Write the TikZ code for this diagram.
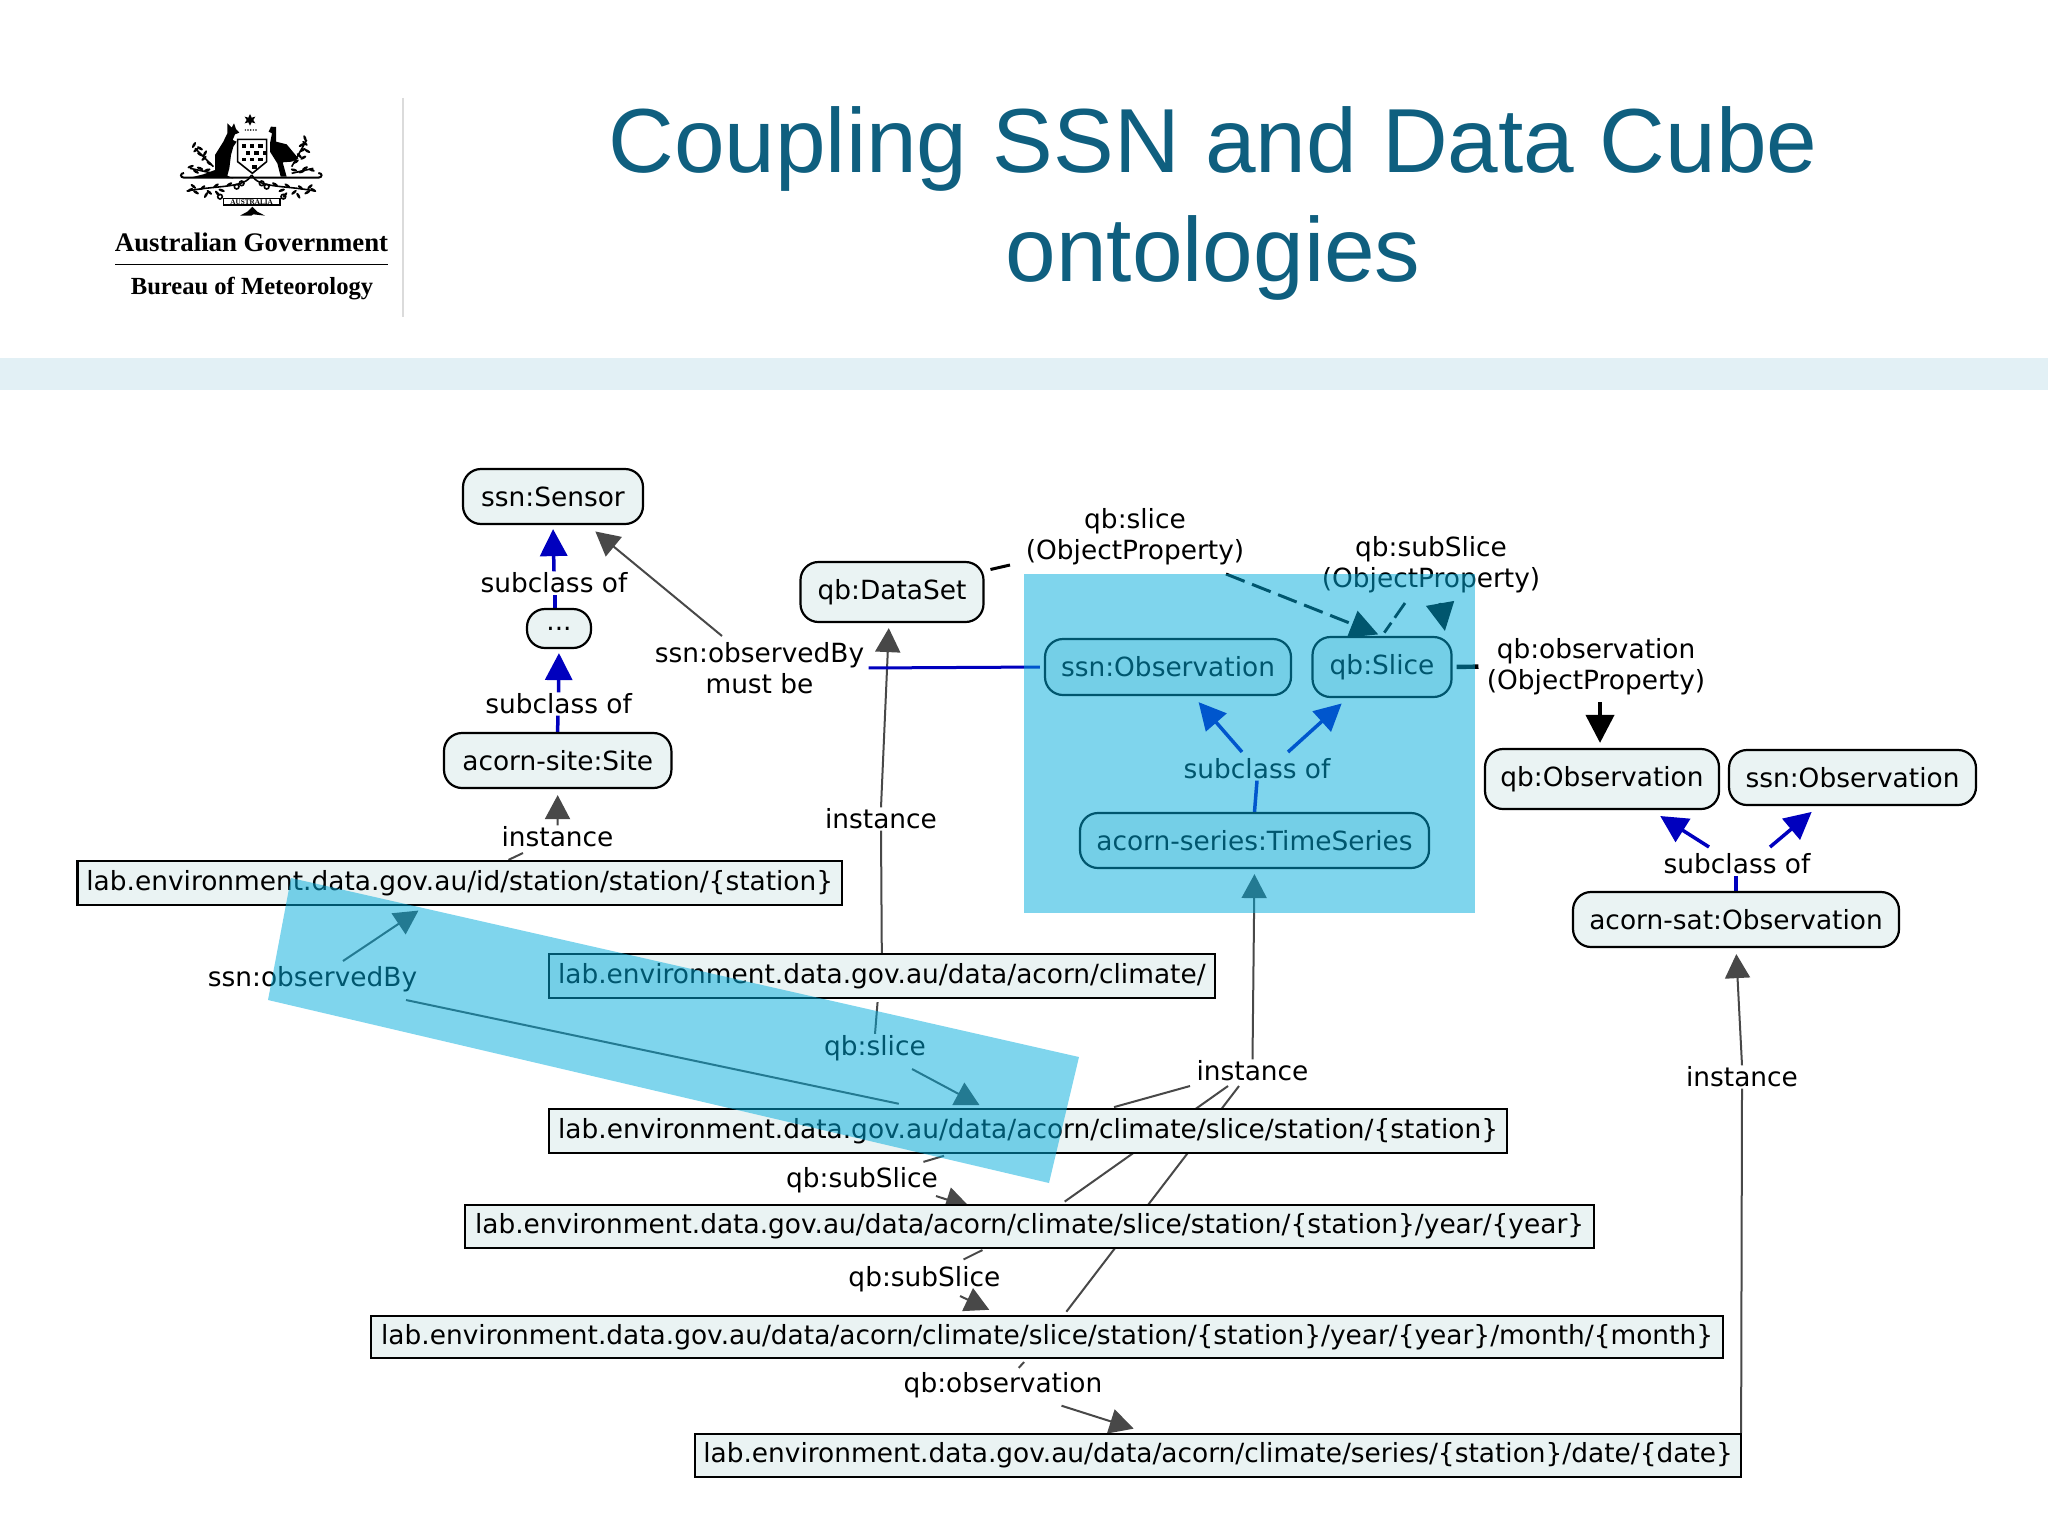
\documentclass[tikz,border=0pt]{standalone}
\usepackage{fontspec}
\setmainfont{DejaVu Sans}
\newfontfamily\titlefont{Liberation Sans}
\newfontfamily\logofont{Liberation Serif}
\usetikzlibrary{arrows.meta,backgrounds}

\definecolor{titleteal}{HTML}{0F5F7F}
\definecolor{bandblue}{HTML}{E2F0F5}
\definecolor{nodefill}{HTML}{EAF3F3}
\definecolor{edgegray}{HTML}{484848}
\definecolor{subblue}{RGB}{0,0,190}
\definecolor{veilblue}{RGB}{0,172,220}

\tikzset{
  classnode/.style={draw=black,line width=1.1pt,fill=nodefill,rounded corners=9pt,
    inner sep=0pt,font=\fontsize{13.2}{15.5}\selectfont},
  urinode/.style={draw=black,line width=1.1pt,fill=nodefill,rectangle,
    inner sep=0pt,font=\fontsize{13.2}{15.5}\selectfont},
  lbl/.style={inner sep=0.5pt,align=center,font=\fontsize{13.2}{15.5}\selectfont},
  instedge/.style={draw=edgegray,line width=1pt},
  instarrow/.style={instedge,-{Triangle[length=12pt,width=12.5pt]}},
  subedge/.style={draw=subblue,line width=1.75pt},
  subarrow/.style={subedge,-{Triangle[length=13.5pt,width=13.5pt]}},
  propedge/.style={draw=black,line width=1.4pt},
  proparrow/.style={propedge,-{Triangle[length=14pt,width=14pt]}},
  blueveil/.style={fill=veilblue,opacity=0.5},
}

\begin{document}
\begin{tikzpicture}[x=0.5pt,y=-0.5pt]
    \useasboundingbox (0,0) rectangle (2048,1536);

    % header
    \fill[bandblue] (0,358) rectangle (2048,390);
    \draw[black!14,line width=0.6pt] (403,98) -- (403,317);
    \node[text=titleteal,font=\titlefont\fontsize{45.5}{54.5}\selectfont,align=center,inner sep=0pt]
        (title) at (1213,203) {Coupling SSN and Data Cube\\ontologies};

    % logo
    \node[inner sep=0pt,font=\logofont\bfseries\fontsize{13.4}{16}\selectfont] (govt) at (251.5,242) {Australian Government};
    \node[inner sep=0pt,font=\logofont\bfseries\fontsize{12.3}{15}\selectfont] (bureau) at (252,288.5) {Bureau of Meteorology};
    \draw[black,line width=0.6pt] (115,264.7) -- (388,264.7);
    \begin{scope}[shift={(170,105)},scale=1/3]
      % star and crest
      \fill (240,27) -- (245,38) -- (256,35) -- (250,45) -- (256,55) -- (245,52) -- (240,62)
            -- (235,52) -- (224,55) -- (230,45) -- (224,35) -- (235,38) -- cycle;
      \foreach \dx in {226,234,242,250,258} \fill (\dx,75) circle (2.5);
      % kangaroo
      \fill (172,55) -- (185,68) -- (192,55) -- (198,72) -- (208,83) -- (195,88) -- (188,105)
            -- (200,110) -- (190,125) -- (183,150) -- (178,190) -- (172,212) -- (190,220)
            -- (150,218) -- (60,218) -- (100,208) -- (135,195) -- (135,150) -- (160,110) -- (172,85) -- cycle;
      % emu
      \fill (303,65) -- (318,66) -- (318,110) -- (350,118) -- (385,160) -- (365,170) -- (338,172)
            -- (350,215) -- (332,215) -- (322,175) -- (300,140) -- (300,115) -- (306,85) -- (296,80) -- cycle;
      % shield
      \draw[line width=0.8pt,fill=white] (203,103) -- (290,103) -- (290,170) -- (247,205) -- (203,170) -- cycle;
      \foreach \sx/\sy in {215/118,240/118,265/118,228/138,253/138,278/138,215/158,240/158,265/158,247/180}
        \fill (\sx,\sy) rectangle ++(13,11);
      % scroll
      \draw[line width=1pt] (42,204) .. controls (30,204) and (30,218) .. (42,218) -- (445,218)
            .. controls (458,218) and (458,204) .. (445,204);
      % branches
      \draw[line width=0.8pt] (245,210) .. controls (225,250) and (150,240) .. (50,258);
      \draw[line width=0.8pt] (245,210) .. controls (265,250) and (340,240) .. (435,258);
      \draw[line width=0.8pt] (130,185) -- (75,130);
      \draw[line width=0.8pt] (365,185) -- (410,105);
      \draw[line width=0.8pt] (130,205) -- (60,190);
      \draw[line width=0.8pt] (365,205) -- (430,190);
      \foreach \lx/\ly/\la in {60/255/30,70/244/-40,78/262/-30,98/248/40,108/270/60,118/262/-40,138/242/35,142/265/-50,155/256/-20,178/238/30,
        315/238/-30,335/256/20,345/270/50,352/242/-35,372/262/40,385/272/-60,392/248/-40,412/262/30,420/245/40,430/255/-30,
        72/120/60,78/135/40,90/130/-30,90/148/-30,105/145/60,102/160/45,118/175/-35,
        62/185/20,78/200/-30,90/190/-20,112/195/15,
        405/100/-70,405/115/-40,395/120/30,398/135/30,412/138/-30,388/152/-45,400/158/30,378/170/35,
        425/195/-20,405/190/30,395/200/20,372/195/-15}
        \fill (\lx,\ly) ellipse [x radius=10,y radius=4,rotate=\la];
      \foreach \lx/\ly in {200/245,290/245,150/275,340/275,215/235,275/235}
        \draw[line width=0.8pt] (\lx,\ly) circle (7);
      % ribbon and feet
      \draw[line width=0.6pt,fill=white] (160,280) -- (330,280) -- (330,300) -- (160,300) -- cycle;
      \node[inner sep=0pt,font=\logofont\bfseries\fontsize{3.6}{4}\selectfont] (ribbon) at (245,290) {AUSTRALIA};
      \fill (247,305) -- (262,320) -- (285,332) -- (250,328) -- (244,332) -- (210,332) -- (232,320) -- cycle;
    \end{scope}

    % class nodes
    \node[classnode,minimum width=90pt,minimum height=27.5pt]    (sensor)  at (553,496.5)   {ssn:Sensor};
    \node[classnode,minimum width=32pt,minimum height=19.5pt]    (dots)    at (559,628.5)   {...};
    \node[classnode,minimum width=113.7pt,minimum height=27.5pt] (site)    at (557.7,760.5) {acorn-site:Site};
    \node[classnode,minimum width=91.5pt,minimum height=30pt]    (dataset) at (892,592)     {qb:DataSet};
    \node[classnode,minimum width=123pt,minimum height=28pt]     (ssnobs)  at (1168,667)    {ssn:Observation};
    \node[classnode,minimum width=69.5pt,minimum height=30pt]    (slice)   at (1382,667)    {qb:Slice};
    \node[classnode,minimum width=174.5pt,minimum height=27.5pt] (series)  at (1254.5,840.5) {acorn-series:TimeSeries};
    \node[classnode,minimum width=117pt,minimum height=30pt]     (qbobs)   at (1602,779)    {qb:Observation};
    \node[classnode,minimum width=123.5pt,minimum height=27.5pt] (ssnobsb) at (1852.5,777.5) {ssn:Observation};
    \node[classnode,minimum width=163pt,minimum height=27.5pt]   (sat)     at (1736,919.5)  {acorn-sat:Observation};

    % uri nodes
    \node[urinode,minimum width=382.3pt,minimum height=22pt]  (urlsite)    at (459.7,883)  {lab.environment.data.gov.au/id/station/station/\{station\}};
    \node[urinode,minimum width=332.8pt,minimum height=22pt]  (urlclimate) at (881.8,976)  {lab.environment.data.gov.au/data/acorn/climate/};
    \node[urinode,minimum width=479pt,minimum height=22pt]    (urlslice)   at (1028,1131)  {lab.environment.data.gov.au/data/acorn/climate/slice/station/\{station\}};
    \node[urinode,minimum width=564.5pt,minimum height=21.5pt] (urlyear)   at (1029.5,1226.5) {lab.environment.data.gov.au/data/acorn/climate/slice/station/\{station\}/year/\{year\}};
    \node[urinode,minimum width=676pt,minimum height=21pt]    (urlmonth)   at (1047,1337)  {lab.environment.data.gov.au/data/acorn/climate/slice/station/\{station\}/year/\{year\}/month/\{month\}};
    \node[urinode,minimum width=523pt,minimum height=21.5pt]  (urldate)    at (1218,1455.5) {lab.environment.data.gov.au/data/acorn/climate/series/\{station\}/date/\{date\}};

    % edge labels
    \node[lbl] (subsensor) at (554,583)    {subclass of};
    \node[lbl] (subdots)   at (558.6,704)  {subclass of};
    \node[lbl] (instsite)  at (557.5,837)  {instance};
    \node[lbl] (instdata)  at (881,819)    {instance};
    \node[lbl] (must)      at (759.5,668)  {ssn:observedBy\\must be};
    \node[lbl] (propslice) at (1135,537)   {qb:slice\\(ObjectProperty)};
    \node[lbl] (propsub)   at (1431,565)   {qb:subSlice\\(ObjectProperty)};
    \node[lbl] (propobs)   at (1596,666.5) {qb:observation\\(ObjectProperty)};
    \node[lbl] (subseries) at (1257,769)   {subclass of};
    \node[lbl] (subsat)    at (1737,864)   {subclass of};
    \node[lbl] (observed)  at (312.5,979)  {ssn:observedBy};
    \node[lbl] (qbslice)   at (875,1048)   {qb:slice};
    \node[lbl] (instmany)  at (1252.5,1071) {instance};
    \node[lbl] (instsat)   at (1742,1077)  {instance};
    \node[lbl] (subsliceA) at (862,1180)   {qb:subSlice};
    \node[lbl] (subsliceB) at (924.4,1279) {qb:subSlice};
    \node[lbl] (qbobserv)  at (1003,1385)  {qb:observation};

    % free ends of the connectors
    \coordinate (musttail)   at (722,636);
    \coordinate (sitestub)   at (523,853);
    \coordinate (obsup)      at (343,961);
    \coordinate (obsdown)    at (406,1000);
    \coordinate (slicetail)  at (912,1069);
    \coordinate (subAtail)   at (936,1196);
    \coordinate (subBtail)   at (960,1296);
    \coordinate (obstail)    at (1061.5,1405.7);
    \coordinate (manyA)      at (1190,1086);
    \coordinate (manyB)      at (1228,1086);
    \coordinate (manyC)      at (1239,1086);
    \coordinate (dashtail)   at (1226,574);
    \coordinate (dashsub)    at (1405,603);
    \coordinate (headsub)    at (1440,603);
    \coordinate (seriesleft) at (1242,752);
    \coordinate (seriesright) at (1288,752);
    \coordinate (satleft)    at (1709,847);
    \coordinate (satright)   at (1770,847);
    \coordinate (datasetend) at (1010,565);

    \begin{scope}[on background layer]
      \draw[subarrow,shorten >=2pt] (subsensor.north) -- (sensor.south);
      \draw[subedge] ([xshift=-2pt]dots.north) -- ([xshift=0.5pt]subsensor.south);
      \draw[subarrow,shorten >=2pt] (subdots.north) -- (dots.south);
      \draw[subedge] (site.north) -- ([xshift=-0.4pt]subdots.south);
      \draw[instarrow,shorten >=3pt] (instsite.north) -- (site.south);
      \draw[instedge] (sitestub) -- (urlsite);
      \draw[instarrow,shorten >=5pt] (musttail) -- (sensor);
      \draw[instarrow,shorten >=2.5pt] (instdata.north) -- ([xshift=-1.5pt]dataset.south);
      \draw[instedge] (urlclimate.north) -- (instdata.south);
      \draw[draw=subblue,line width=1.5pt,shorten <=1.5pt,shorten >=2pt] (must.east) -- (ssnobs.west);
      \draw[propedge,line width=1.5pt,shorten <=3pt] (dataset) -- (datasetend);
      \draw[proparrow,dash pattern=on 10pt off 4pt,line width=1.5pt,shorten >=2pt] (dashtail) -- (slice.north);
      \draw[propedge,dash pattern=on 9pt off 3pt,shorten >=2pt] (dashsub) -- (slice.north);
      \draw[proparrow,shorten >=2.5pt] (headsub) -- (slice.26);
      \draw[propedge,line width=2.2pt,shorten <=2pt,shorten >=3.5pt] (slice.east) -- (propobs.west);
      \draw[proparrow,line width=2pt,shorten <=3pt,shorten >=2.5pt] ([xshift=2pt]propobs.south) -- ([xshift=-1pt]qbobs.north);
      \draw[subarrow,shorten >=4pt] (seriesleft) -- (ssnobs);
      \draw[subarrow,shorten >=4pt] (seriesright) -- (slice);
      \draw[subedge] (series.north) -- (subseries.south);
      \draw[subarrow,shorten >=5.5pt] (satleft) -- (qbobs);
      \draw[subarrow,shorten >=4.5pt] (satright) -- (ssnobsb);
      \draw[subedge] (sat.north) -- ([xshift=-0.5pt]subsat.south);
      \draw[instarrow,shorten >=4pt] (obsup) -- (urlsite);
      \draw[instedge,shorten >=10pt] (obsdown) -- (urlslice);
      \draw[instedge,shorten <=1.5pt] ([xshift=-2pt]urlclimate.south) -- (qbslice.north);
      \draw[instarrow,shorten >=3pt] (slicetail) -- (urlslice);
      \draw[instedge,shorten <=3pt,shorten >=7pt] (urlslice) -- (subsliceA);
      \draw[instarrow,shorten >=-5pt] (subAtail) -- (urlyear);
      \draw[instedge,shorten <=1pt,shorten >=6pt] (urlyear) -- (subsliceB);
      \draw[instarrow,shorten >=6pt] (subBtail) -- (urlmonth);
      \draw[instedge,shorten <=2pt,shorten >=2pt] (urlmonth) -- (qbobserv);
      \draw[instarrow,shorten >=7pt] (obstail) -- (urldate);
      \draw[instarrow,shorten >=2.5pt] (instmany.north) -- (series.south);
      \draw[instedge,shorten >=1.5pt] (manyA) -- (urlslice);
      \draw[instedge,shorten >=2pt] (manyB) -- (urlyear);
      \draw[instedge,shorten >=2pt] (manyC) -- (urlmonth);
      \draw[instarrow,shorten >=3pt] (instsat.north) -- (sat.south);
      \draw[instedge] ([xshift=-0.5pt]urldate.north east) -- (instsat.south);
    \end{scope}

    % highlights
    \fill[blueveil] (1024,574) rectangle (1475,913);
    \fill[blueveil] (291,878) -- (1079,1057) -- (1049,1183) -- (268,1000) -- cycle;
\end{tikzpicture}
\end{document}
